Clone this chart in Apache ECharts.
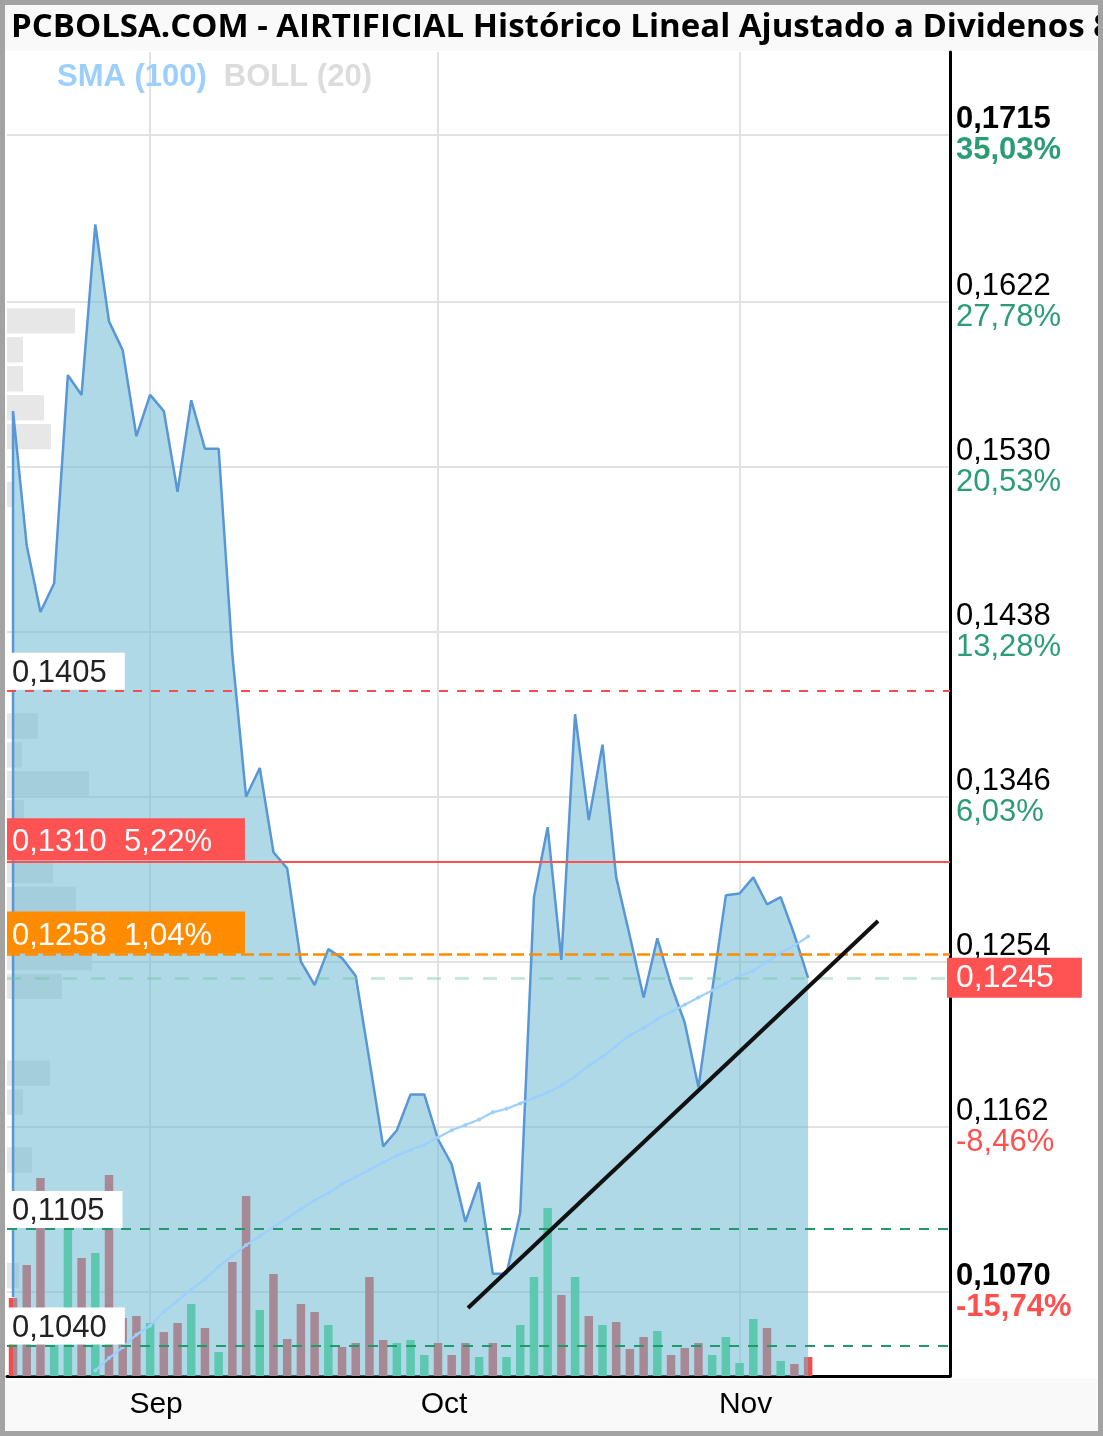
<!DOCTYPE html>
<html><head><meta charset="utf-8">
<script src="https://cdn.jsdelivr.net/npm/echarts@6/dist/echarts.min.js"></script>
<style>html,body{margin:0;padding:0;background:#fff}#c{width:1103px;height:1436px}</style>
</head><body><div id="c"></div>
<script>
// ---------- DATA ----------
const dates = [
 '2023-08-18','2023-08-21','2023-08-22','2023-08-23','2023-08-24','2023-08-25',
 '2023-08-28','2023-08-29','2023-08-30','2023-08-31',
 '2023-09-01','2023-09-04','2023-09-05','2023-09-06','2023-09-07','2023-09-08',
 '2023-09-11','2023-09-12','2023-09-13','2023-09-14','2023-09-15',
 '2023-09-18','2023-09-19','2023-09-20','2023-09-21','2023-09-22',
 '2023-09-25','2023-09-26','2023-09-27','2023-09-28','2023-09-29',
 '2023-10-02','2023-10-03','2023-10-04','2023-10-05','2023-10-06',
 '2023-10-09','2023-10-10','2023-10-11','2023-10-12','2023-10-13',
 '2023-10-16','2023-10-17','2023-10-18','2023-10-19','2023-10-20',
 '2023-10-23','2023-10-24','2023-10-25','2023-10-26','2023-10-27',
 '2023-10-30','2023-10-31',
 '2023-11-01','2023-11-02','2023-11-03','2023-11-06','2023-11-07','2023-11-08'
];
const monthLabels = ['Sep','Oct','Nov'];
// first plotted value of the line (drawn on the first date, before the first close)
const startValue = 0.1067;
const close = [
 0.1561,0.1486,0.1449,0.1465,0.1581,0.1570,0.1665,0.1611,0.1595,0.1547,
 0.1570,0.1561,0.1516,0.1567,0.1540,0.1540,0.1425,0.1346,0.1362,0.1315,
 0.1306,0.1254,0.1241,0.1261,0.1256,0.1246,0.1199,0.1151,0.1160,0.1180,
 0.1180,0.1155,0.1141,0.1109,0.1131,0.1080,0.1080,0.1114,0.1290,0.1329,
 0.1255,0.1392,0.1333,0.1375,0.1301,0.1268,0.1234,0.1267,0.1241,0.1220,
 0.1184,0.1238,0.1291,0.1292,0.1301,0.1286,0.1290,0.1269,0.1245
];
const sma100 = [
 null,null,null,null,null,null,0.1026,0.1033,0.1039,0.1046,
 0.1051,0.1059,0.1065,0.1071,0.1077,0.1084,0.1090,0.1096,0.1101,0.1106,
 0.1111,0.1116,0.1121,0.1125,0.1130,0.1134,0.1138,0.1142,0.1146,0.1149,
 0.1152,0.1156,0.1160,0.1163,0.1166,0.1170,0.1172,0.1175,0.1178,0.1181,
 0.1185,0.1190,0.1196,0.1201,0.1207,0.1213,0.1217,0.1222,0.1226,0.1230,
 0.1234,0.1238,0.1242,0.1246,0.1249,0.1254,0.1259,0.1263,0.1268
];
const volume = [
 78,111,198,31,146,118,123,201,58,60,
 53,44,53,72,48,24,114,180,66,102,
 37,72,64,51,29,33,99,36,33,36,
 21,33,21,33,19,33,19,51,99,168,
 81,99,60,51,54,27,39,45,21,28,
 33,21,39,13,57,48,15,12,19
];
// volume-by-price profile, bins from the bottom of the price axis upward
const profile = [
 0,0,0,12,0,0,0,25,0,16,
 43,0,0,55,85,0,69,46,0,17,
 82,15,31,0,0,0,0,0,0,0,
 5,0,44,37,16,16,68,0,0,0,
 0,0,0,0,0,0
];
const tickPrices = [0.1070,0.1162,0.1254,0.1346,0.1438,0.1530,0.1622,0.1715];
const tickPercents = ['-15,74%','-8,46%','-1,22%','6,03%','13,28%','20,53%','27,78%','35,03%'];
const levelValues = [0.1405, 0.1310, 0.1258, 0.1105, 0.1040];
const levelKinds  = ['resDash','resSolid','orange','sup','sup'];
const trendStart = [33.19, 0.10609];
const trendEnd   = [63.10, 0.12767];
const titleText = 'PCBOLSA.COM - AIRTIFICIAL Histórico Lineal Ajustado a Dividenos 8';

// ---------- BUILD ----------
const lastPrice = close[close.length - 1];
const fmt = v => v.toFixed(4).replace('.', ',');
const monthStarts = [];
for (let i = 1; i < dates.length; i++) if (dates[i].slice(5,7) !== dates[i-1].slice(5,7)) monthStarts.push(i);

const closeData = [[0, startValue]].concat(close.map((v,i) => [i, v]));
const smaData = sma100.map((v,i) => v == null ? null : [i, v]).filter(Boolean);
const volData = volume.map((v,i) => ({
  value: [i, v],
  itemStyle: { color: (i > 0 && close[i] >= close[i-1]) ? 'rgb(74,216,134)' : 'rgb(238,78,76)' }
}));

const NUM_FONT = 'Liberation Sans, Arial, sans-serif';
const styles = {
  resDash:  { line: { color: '#ff4a4a', width: 2, type: [9, 9] }, bg: '#ffffff', fg: '#222', pct: false },
  resSolid: { line: { color: '#ff5050', width: 2, type: 'solid' }, bg: '#ff5252', fg: '#ffffff', pct: true },
  orange:   { line: { color: '#ff8c00', width: 2.5, type: [13, 5] }, bg: '#ff8c00', fg: '#ffffff', pct: true },
  sup:      { line: { color: '#1f9a68', width: 2, type: [10, 9] }, bg: '#ffffff', fg: '#222', pct: false }
};
const levelLines = levelValues.map((v, k) => {
  const s = styles[levelKinds[k]];
  const pctTxt = ((v / lastPrice - 1) * 100).toFixed(2).replace('.', ',') + '%';
  return {
    yAxis: v,
    lineStyle: s.line,
    label: {
      show: true, position: 'insideStartTop', distance: [0, 1],
      formatter: s.pct ? fmt(v) + '  ' + pctTxt : fmt(v),
      color: s.fg, backgroundColor: s.bg, fontSize: 31, fontFamily: NUM_FONT, lineHeight: 33,
      padding: s.pct ? [8, 33, 1, 5] : [4, 18, 0, 5]
    }
  };
});
levelLines.push({
  yAxis: lastPrice,
  lineStyle: { color: 'rgba(110,195,165,0.45)', width: 2.5, type: [14, 14] },
  label: {
    show: true, position: 'end', distance: -3, formatter: fmt(lastPrice),
    color: '#fff', backgroundColor: '#ff5252', fontSize: 32, fontFamily: NUM_FONT,
    lineHeight: 32, padding: [5, 28, 3, 9]
  }
});
levelLines.push([
  { coord: trendStart, lineStyle: { color: '#111', width: 4, type: 'solid' }, label: { show: false } },
  { coord: trendEnd }
]);

const chart = echarts.init(document.getElementById('c'), null, { renderer: 'canvas' });
chart.setOption({
  animation: false,
  backgroundColor: '#ffffff',
  title: {
    text: titleText, left: 6, top: 6,
    textStyle: { fontFamily: 'Open Sans', fontWeight: 'bold', fontSize: 33, color: '#000' }
  },
  legend: {
    left: 47, top: 57, icon: 'none', itemWidth: 0, itemGap: 12, selectedMode: false,
    textStyle: { fontFamily: NUM_FONT, fontWeight: 'bold', fontSize: 31 },
    data: [
      { name: 'SMA (100)', textStyle: { color: '#9ccffc' } },
      { name: 'BOLL (20)', textStyle: { color: '#dcdcdc' } }
    ]
  },
  graphic: [
    { type: 'rect', z: -10, silent: true, shape: { x: 0, y: 0, width: 1103, height: 51 }, style: { fill: '#f9f9f9' } },
    { type: 'rect', z: -10, silent: true, shape: { x: 0, y: 1378, width: 1103, height: 58 }, style: { fill: '#f9f9f9' } },
    { type: 'rect', z: 100, silent: true, shape: { x: 2.5, y: 2.5, width: 1098, height: 1431 }, style: { fill: 'none', stroke: '#a3a3a3', lineWidth: 5 } }
  ],
  grid: [
    { left: 7, top: 52, width: 943, height: 1324, outerBoundsMode: 'none' },
    { left: 7, top: 46, width: 943, height: 1331, outerBoundsMode: 'none' }
  ],
  xAxis: [
    {
      type: 'value', gridIndex: 0, min: -0.44, max: 68.35,
      axisLine: { show: true, onZero: false, lineStyle: { color: '#000', width: 3 } },
      axisTick: { show: false, customValues: monthStarts },
      splitLine: { show: true, lineStyle: { color: '#e2e2e2', width: 2 } },
      axisLabel: {
        customValues: monthStarts, margin: 14, fontSize: 30, fontFamily: NUM_FONT, color: '#000',
        padding: [0, 0, 0, 12],
        formatter: v => monthLabels[monthStarts.indexOf(v)] || ''
      }
    },
    { type: 'value', gridIndex: 1, min: 0, max: 943, show: false }
  ],
  yAxis: [
    {
      type: 'value', gridIndex: 0, position: 'right', min: 0.1023, max: 0.17612,
      axisLine: { show: true, onZero: false, lineStyle: { color: '#000', width: 3 } },
      axisTick: { show: false, customValues: tickPrices },
      splitLine: { show: true, lineStyle: { color: '#e2e2e2', width: 2 } },
      axisLabel: {
        customValues: tickPrices, margin: 6,
        formatter: v => {
          const i = tickPrices.findIndex(t => Math.abs(t - v) < 1e-7);
          if (i < 0) return '';
          const bold = (i === 0 || i === tickPrices.length - 1) ? 'b' : '';
          const neg = tickPercents[i].charAt(0) === '-';
          return '{p' + bold + '|' + fmt(tickPrices[i]) + '}\n{' + (neg ? 'd' : 'u') + bold + '|' + tickPercents[i] + '}';
        },
        rich: {
          p:  { fontSize: 31, fontFamily: NUM_FONT, color: '#000', lineHeight: 31 },
          pb: { fontSize: 31, fontFamily: NUM_FONT, color: '#000', lineHeight: 31, fontWeight: 'bold' },
          u:  { fontSize: 31, fontFamily: NUM_FONT, color: '#2a9d74', lineHeight: 31 },
          ub: { fontSize: 31, fontFamily: NUM_FONT, color: '#2a9d74', lineHeight: 31, fontWeight: 'bold' },
          d:  { fontSize: 31, fontFamily: NUM_FONT, color: '#ff5050', lineHeight: 31 },
          db: { fontSize: 31, fontFamily: NUM_FONT, color: '#ff5050', lineHeight: 31, fontWeight: 'bold' }
        }
      }
    },
    { type: 'value', gridIndex: 0, min: 0, max: 1324, show: false },
    { type: 'category', gridIndex: 1, show: false, data: profile.map((_, k) => 'b' + k) }
  ],
  series: [
    {
      name: 'profile', type: 'bar', xAxisIndex: 1, yAxisIndex: 2, z: 0,
      data: profile, barCategoryGap: '12%', itemStyle: { color: '#e7e7e7' }, silent: true
    },
    {
      name: 'volume', type: 'bar', xAxisIndex: 0, yAxisIndex: 1, z: 1,
      data: volData, barWidth: 8.5, silent: true
    },
    {
      name: 'price', type: 'line', xAxisIndex: 0, yAxisIndex: 0, z: 2,
      data: closeData, showSymbol: false, symbol: 'none',
      lineStyle: { color: '#5996d6', width: 2.5 },
      areaStyle: { color: 'rgb(110,185,212)', opacity: 0.55 },
      markLine: { symbol: 'none', silent: true, animation: false, precision: 6, data: levelLines }
    },
    {
      name: 'SMA (100)', type: 'line', xAxisIndex: 0, yAxisIndex: 0, z: 3,
      data: smaData, symbol: 'circle', symbolSize: 4, showSymbol: true,
      lineStyle: { color: '#9ccffc', width: 2.2 }, itemStyle: { color: '#9ccffc' }
    },
    { name: 'BOLL (20)', type: 'line', data: [] }
  ]
});
</script></body></html>
